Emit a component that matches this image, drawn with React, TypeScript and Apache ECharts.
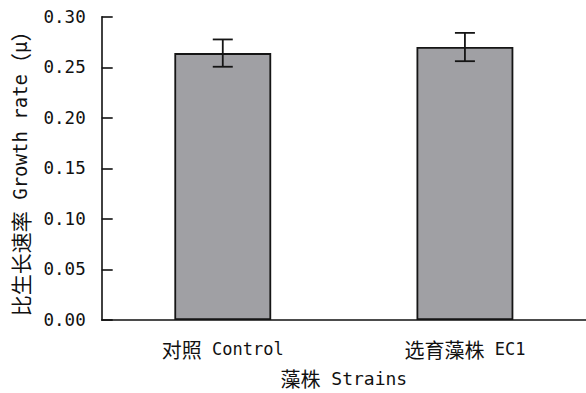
import React, { useEffect, useRef } from "react";
import * as echarts from "echarts";

const categories = ["对照 Control", "选育藻株 EC1"];
const growthRate = [0.264, 0.27];
const errorValues = [0.0135, 0.014];
const yTicks = { min: 0, max: 0.3, interval: 0.05 };
const yTitle = "比生长速率 Growth rate（μ）";
const xTitle = "藻株 Strains";

const CJK_FONT = "'Noto Sans CJK SC', sans-serif";
const LAT_FONT = "'DejaVu Sans Mono', monospace";

function toRich(s: string): string {
  const parts: string[] = [];
  const re = /([\u3000-\u9fff\uff00-\uffef]+)|([^\u3000-\u9fff\uff00-\uffef]+)/g;
  let m: RegExpExecArray | null;
  while ((m = re.exec(s)) !== null) {
    if (m[1]) parts.push(`{c|${m[1]}}`);
    else parts.push(`{l|${m[2]}}`);
  }
  return parts.join("");
}

const rich = {
  c: { fontFamily: CJK_FONT, fontSize: 20, color: "#111", lineHeight: 22 },
  l: { fontFamily: LAT_FONT, fontSize: 17, color: "#111", lineHeight: 22 },
};
const richXTitle = {
  c: { fontFamily: CJK_FONT, fontSize: 20, color: "#111", lineHeight: 22 },
  l: { fontFamily: LAT_FONT, fontSize: 18, color: "#111", lineHeight: 22 },
};
const richYTitle = {
  c: { fontFamily: CJK_FONT, fontSize: 21, color: "#111", lineHeight: 23 },
  l: { fontFamily: LAT_FONT, fontSize: 19, color: "#111", lineHeight: 23 },
};

export default function App() {
  const ref = useRef<HTMLDivElement>(null);
  useEffect(() => {
    if (!ref.current) return;
    const chart = echarts.init(ref.current, null, { renderer: "svg" });
    const errData = growthRate.map((v, i) => [i, v - errorValues[i], v + errorValues[i]]);
    chart.setOption({
      animation: false,
      grid: { left: 101.7, right: -2, top: 16.7, bottom: 69.5, containLabel: false },
      xAxis: {
        type: "category",
        data: categories,
        name: toRich(xTitle),
        nameLocation: "middle",
        nameGap: 47,
        nameTextStyle: { rich: richXTitle },
        axisLine: { lineStyle: { color: "#111", width: 1.6 } },
        axisTick: { inside: true, length: 8, lineStyle: { color: "#111", width: 1.6 } },
        axisLabel: {
          margin: 18,
          formatter: (v: string) => toRich(v),
          rich,
        },
        splitLine: { show: false },
      },
      yAxis: {
        type: "value",
        min: yTicks.min,
        max: yTicks.max,
        interval: yTicks.interval,
        name: toRich(yTitle),
        nameLocation: "middle",
        nameGap: 70,
        nameRotate: 90,
        nameTextStyle: { rich: richYTitle },
        axisLine: { show: true, lineStyle: { color: "#111", width: 1.6 } },
        axisTick: { show: true, inside: true, length: 11, lineStyle: { color: "#111", width: 1.6 } },
        axisLabel: {
          margin: 16,
          formatter: (v: number) => v.toFixed(2),
          fontFamily: LAT_FONT,
          fontSize: 17.5,
          color: "#111",
        },
        splitLine: { show: false },
      },
      series: [
        {
          type: "bar",
          data: growthRate,
          barWidth: "40%",
          itemStyle: { color: "#a0a0a4", borderColor: "#151515", borderWidth: 1.8 },
        },
        {
          type: "custom",
          data: errData,
          z: 10,
          renderItem: (params: any, api: any) => {
            const x = api.value(0);
            const lo = api.coord([x, api.value(1)]);
            const hi = api.coord([x, api.value(2)]);
            const hw = 10;
            const style = { stroke: "#151515", lineWidth: 1.8 };
            return {
              type: "group",
              children: [
                { type: "line", shape: { x1: hi[0], y1: hi[1], x2: lo[0], y2: lo[1] }, style },
                { type: "line", shape: { x1: hi[0] - hw, y1: hi[1], x2: hi[0] + hw, y2: hi[1] }, style },
                { type: "line", shape: { x1: lo[0] - hw, y1: lo[1], x2: lo[0] + hw, y2: lo[1] }, style },
              ],
            };
          },
        },
      ],
    });
    return () => chart.dispose();
  }, []);
  return (
    <div
      ref={ref}
      style={{ position: "fixed", left: 0, top: 0, width: 586, height: 393, background: "#fff" }}
    />
  );
}
